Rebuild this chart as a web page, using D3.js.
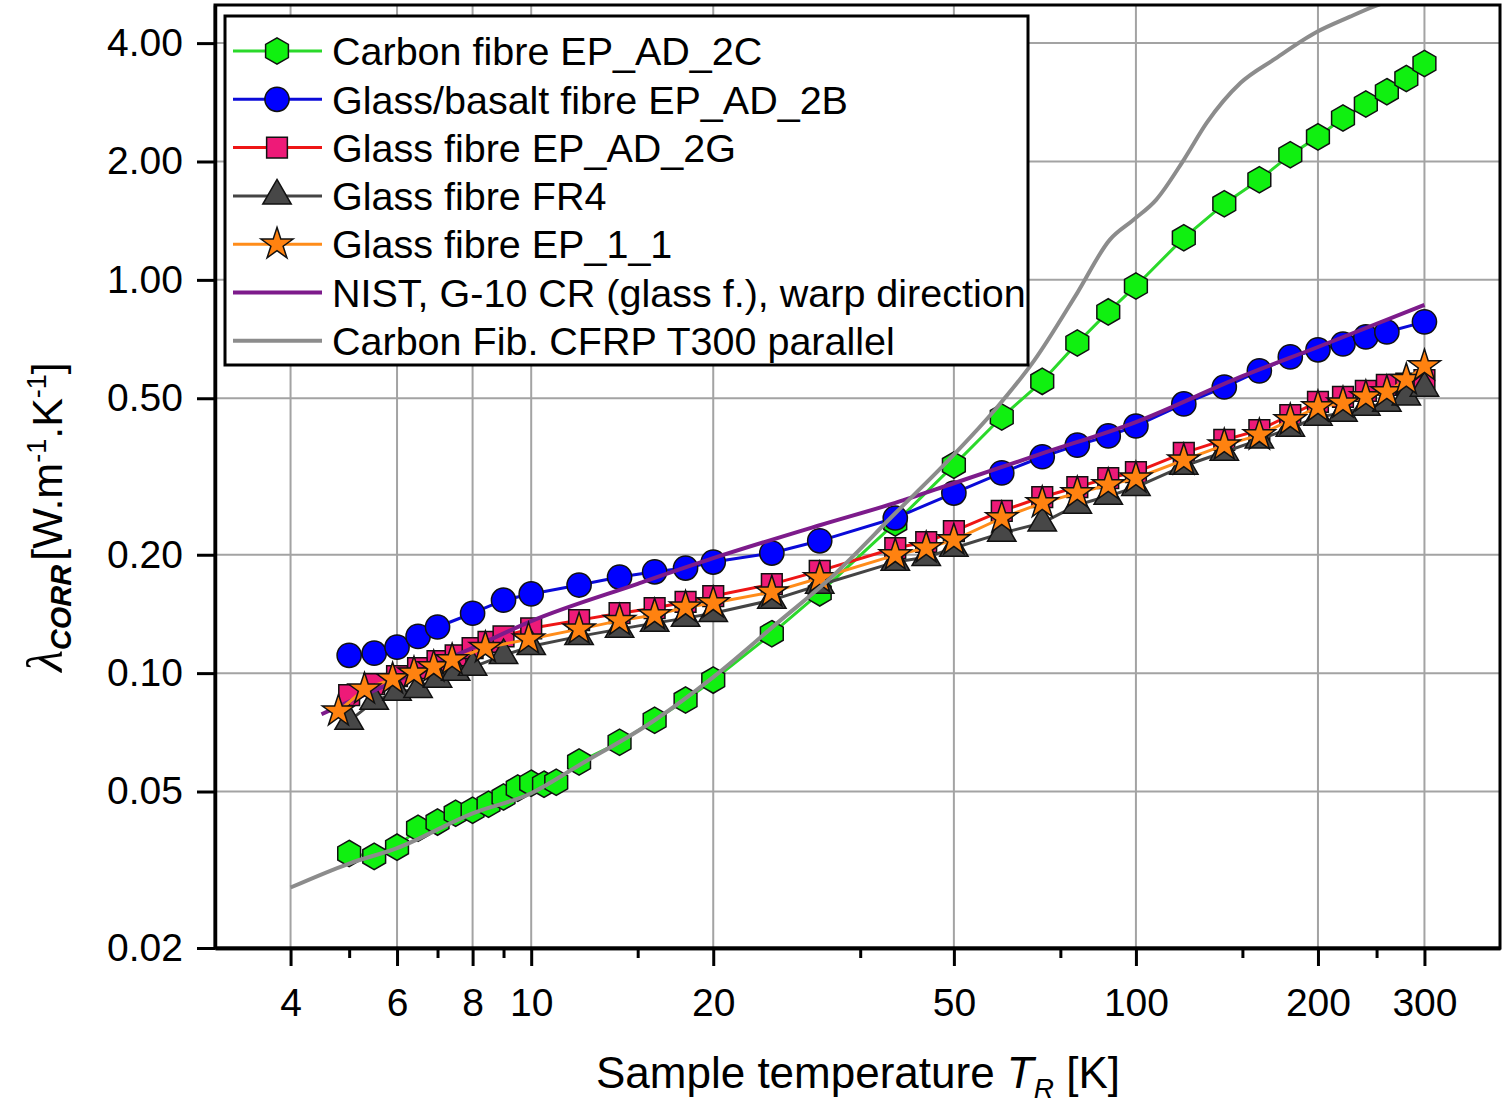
<!DOCTYPE html>
<html>
<head>
<meta charset="utf-8">
<script src="https://cdn.jsdelivr.net/npm/d3@7/dist/d3.min.js"></script>
<style>
  html, body { margin: 0; padding: 0; background: #fff; }
  svg { display: block; font-family: "Liberation Sans", Arial, sans-serif; }
</style>
</head>
<body>
<svg id="chart" width="1508" height="1105"></svg>
<script>
// Thermal conductivity vs. sample temperature (log-log)

const carbonT = [5, 5.5, 6, 6.5, 7, 7.5, 8, 8.5, 9, 9.5, 10, 10.5, 11, 12, 14, 16, 18, 20, 25, 30, 40, 50, 60, 70, 80, 90, 100, 120, 140, 160, 180, 200, 220, 240, 260, 280, 300];
const carbonK = [0.0348, 0.0342, 0.0361, 0.0403, 0.0418, 0.0440, 0.0448, 0.0464, 0.0484, 0.0510, 0.0525, 0.0522, 0.0528, 0.0594, 0.0667, 0.0759, 0.0854, 0.0960, 0.126, 0.160, 0.241, 0.338, 0.448, 0.552, 0.691, 0.829, 0.965, 1.279, 1.561, 1.797, 2.08, 2.31, 2.58, 2.80, 3.01, 3.25, 3.55];

const basaltT = [5, 5.5, 6, 6.5, 7, 8, 9, 10, 12, 14, 16, 18, 20, 25, 30, 40, 50, 60, 70, 80, 90, 100, 120, 140, 160, 180, 200, 220, 240, 260, 300];
const basaltK = [0.111, 0.1124, 0.1164, 0.124, 0.131, 0.142, 0.1533, 0.159, 0.1675, 0.1755, 0.181, 0.185, 0.1916, 0.202, 0.217, 0.248, 0.287, 0.323, 0.355, 0.380, 0.401, 0.425, 0.4836, 0.534, 0.587, 0.637, 0.664, 0.687, 0.716, 0.737, 0.782];

const glass2gT = [5, 5.5, 6, 6.5, 7, 7.5, 8, 8.5, 9, 10, 12, 14, 16, 18, 20, 25, 30, 40, 45, 50, 60, 70, 80, 90, 100, 120, 140, 160, 180, 200, 220, 240, 260, 280, 300];
const glass2gK = [0.0879, 0.0938, 0.0983, 0.103, 0.1073, 0.111, 0.1158, 0.120, 0.124, 0.130, 0.1364, 0.142, 0.1464, 0.1517, 0.157, 0.1684, 0.182, 0.208, 0.2155, 0.2298, 0.2584, 0.2804, 0.2973, 0.3133, 0.3246, 0.363, 0.3917, 0.415, 0.4533, 0.4895, 0.504, 0.522, 0.541, 0.545, 0.556];

const fr4T = [5, 5.5, 6, 6.5, 7, 7.5, 8, 9, 10, 12, 14, 16, 18, 20, 25, 30, 40, 45, 50, 60, 70, 80, 90, 100, 120, 140, 160, 180, 200, 220, 240, 260, 280, 300];
const fr4K = [0.0755, 0.0849, 0.0895, 0.091, 0.0966, 0.1006, 0.1036, 0.111, 0.117, 0.124, 0.1294, 0.134, 0.138, 0.142, 0.1533, 0.1675, 0.1916, 0.197, 0.208, 0.227, 0.241, 0.2677, 0.282, 0.297, 0.3363, 0.365, 0.392, 0.420, 0.448, 0.4587, 0.475, 0.486, 0.504, 0.531];

const ep11T = [4.8, 5.3, 5.9, 6.4, 6.9, 7.4, 8.4, 9.9, 12, 14, 16, 18, 20, 25, 30, 40, 45, 50, 60, 70, 80, 90, 100, 120, 140, 160, 180, 200, 220, 240, 260, 280, 300];
const ep11K = [0.080, 0.091, 0.0966, 0.100, 0.1036, 0.108, 0.116, 0.122, 0.1294, 0.136, 0.1405, 0.147, 0.1507, 0.1607, 0.1745, 0.1996, 0.208, 0.218, 0.248, 0.271, 0.287, 0.301, 0.313, 0.348, 0.380, 0.403, 0.440, 0.475, 0.486, 0.504, 0.519, 0.557, 0.604];

const nistT = [4.5, 5, 6, 8, 10, 15, 20, 30, 40, 50, 70, 100, 150, 200, 300];
const nistK = [0.0786, 0.0846, 0.0958, 0.116, 0.1356, 0.1687, 0.196, 0.2377, 0.271, 0.304, 0.362, 0.435, 0.569, 0.675, 0.864];

const t300T = [4, 5, 6, 8, 10, 12, 16, 20, 25.8, 31, 40, 49, 59, 68, 80, 90.5, 99, 108, 120, 131, 149, 169, 199, 226, 247, 270, 300];
const t300K = [0.0285, 0.0328, 0.0359, 0.0440, 0.0495, 0.0583, 0.0759, 0.0977, 0.136, 0.1725, 0.255, 0.348, 0.475, 0.626, 0.927, 1.264, 1.42, 1.598, 2.02, 2.51, 3.17, 3.63, 4.27, 4.67, 4.95, 5.2, 5.4];

const xMajor = [4, 6, 8, 10, 20, 50, 100, 200, 300];
const xMinor = [5, 7, 9, 15, 35, 75, 150, 250];
const yMajor = [0.02, 0.05, 0.1, 0.2, 0.5, 1, 2, 4];

const legendLabels = [
  'Carbon fibre EP_AD_2C',
  'Glass/basalt fibre EP_AD_2B',
  'Glass fibre EP_AD_2G',
  'Glass fibre FR4',
  'Glass fibre EP_1_1',
  'NIST, G-10 CR (glass f.), warp direction',
  'Carbon Fib. CFRP T300 parallel',
];

const symbolHexagon = {
  draw(ctx, size) {
    const r = Math.sqrt(size / (1.5 * Math.sqrt(3)));
    for (let i = 0; i < 6; i++) {
      const a = Math.PI / 3 * i - Math.PI / 2;
      const px = r * Math.cos(a), py = r * Math.sin(a);
      if (i === 0) ctx.moveTo(px, py); else ctx.lineTo(px, py);
    }
    ctx.closePath();
  }
};

const zip = (ts, ks) => ts.map((t, i) => ({ t, k: ks[i] }));

// legend order; draw order is set separately below
const series = [
  { name: legendLabels[0], data: zip(carbonT, carbonK), line: '#2ad92a', fill: '#10f010', symbol: symbolHexagon, size: 450, lw: 3 },
  { name: legendLabels[1], data: zip(basaltT, basaltK), line: '#0a0ad8', fill: '#0000ff', symbol: d3.symbolCircle, size: 460, lw: 3 },
  { name: legendLabels[2], data: zip(glass2gT, glass2gK), line: '#ee1515', fill: '#ee1a78', symbol: d3.symbolSquare, size: 430, lw: 3 },
  { name: legendLabels[3], data: zip(fr4T, fr4K), line: '#444444', fill: '#474747', symbol: d3.symbolTriangle, size: 350, lw: 3 },
  { name: legendLabels[4], data: zip(ep11T, ep11K), line: '#ff8c1a', fill: '#ff8210', symbol: d3.symbolStar, size: 320, lw: 3 },
  { name: legendLabels[5], data: zip(nistT, nistK), line: '#7d1b8b', symbol: null, lw: 4, smooth: true },
  { name: legendLabels[6], data: zip(t300T, t300K), line: '#8c8c8c', symbol: null, lw: 4, smooth: true },
];
const drawOrder = [0, 1, 2, 3, 5, 4, 6];

const plot = { left: 215, right: 1500, top: 5, bottom: 948 };

const svg = d3.select('#chart');

const x = d3.scaleLog().domain([3, 400]).range([plot.left, plot.right]);
const y = d3.scaleLog().domain([0.02, 5]).range([plot.bottom, plot.top]);

svg.append('defs').append('clipPath').attr('id', 'plot-clip')
  .append('rect')
  .attr('x', plot.left).attr('y', plot.top)
  .attr('width', plot.right - plot.left).attr('height', plot.bottom - plot.top);

// grid
const grid = svg.append('g').attr('stroke', '#a3a3a3').attr('stroke-width', 2);
xMajor.forEach(v => {
  grid.append('line')
    .attr('x1', x(v)).attr('x2', x(v))
    .attr('y1', plot.top).attr('y2', plot.bottom);
});
yMajor.filter(v => v > 0.02).forEach(v => {
  grid.append('line')
    .attr('x1', plot.left).attr('x2', plot.right)
    .attr('y1', y(v)).attr('y2', y(v));
});

// data
const lineGen = d3.line().x(d => x(d.t)).y(d => y(d.k));
const smoothGen = d3.line().x(d => x(d.t)).y(d => y(d.k)).curve(d3.curveMonotoneX);

const dataLayer = svg.append('g').attr('clip-path', 'url(#plot-clip)');
drawOrder.forEach(i => {
  const s = series[i];
  const g = dataLayer.append('g');
  g.append('path')
    .attr('d', (s.smooth ? smoothGen : lineGen)(s.data))
    .attr('fill', 'none')
    .attr('stroke', s.line)
    .attr('stroke-width', s.lw)
    .attr('stroke-linejoin', 'round');
  if (s.symbol) {
    g.selectAll('path.marker').data(s.data).join('path')
      .attr('class', 'marker')
      .attr('transform', d => `translate(${x(d.t)},${y(d.k)})`)
      .attr('d', d3.symbol().type(s.symbol).size(s.size))
      .attr('fill', s.fill)
      .attr('stroke', '#111')
      .attr('stroke-width', 1.5)
      .attr('stroke-linejoin', 'miter');
  }
});

// frame
svg.append('rect')
  .attr('x', plot.left).attr('y', plot.top)
  .attr('width', plot.right - plot.left).attr('height', plot.bottom - plot.top)
  .attr('fill', 'none').attr('stroke', '#000').attr('stroke-width', 3);

// axes
const xAxis = svg.append('g')
  .attr('transform', `translate(0,${plot.bottom})`)
  .call(d3.axisBottom(x).tickValues(xMajor).tickFormat(d3.format('d')).tickSize(18).tickSizeOuter(0).tickPadding(22));
const xAxisMinor = svg.append('g')
  .attr('transform', `translate(0,${plot.bottom})`)
  .call(d3.axisBottom(x).tickValues(xMinor).tickFormat('').tickSize(10).tickSizeOuter(0));
const yAxis = svg.append('g')
  .attr('transform', `translate(${plot.left},0)`)
  .call(d3.axisLeft(y).tickValues(yMajor).tickFormat(d3.format('.2f')).tickSize(18).tickSizeOuter(0).tickPadding(14));

[xAxis, xAxisMinor, yAxis].forEach(a => {
  a.select('.domain').attr('stroke-width', 3.5).attr('stroke', '#000');
  a.selectAll('.tick line').attr('stroke', '#000').attr('stroke-width', 3);
  a.selectAll('.tick text')
    .attr('fill', '#000')
    .style('font-size', '39px')
    .style('font-family', '"Liberation Sans", Arial, sans-serif');
});

// axis titles
const xTitle = svg.append('text')
  .attr('x', 858).attr('y', 1088)
  .attr('text-anchor', 'middle')
  .style('font-size', '44px');
xTitle.append('tspan').text('Sample temperature ');
xTitle.append('tspan').style('font-style', 'italic').text('T');
xTitle.append('tspan').style('font-style', 'italic').style('font-size', '28px').attr('dy', 10).text('R');
xTitle.append('tspan').attr('dy', -10).text(' [K]');

const yTitle = svg.append('text')
  .attr('transform', 'translate(62,517) rotate(-90)')
  .attr('text-anchor', 'middle')
  .style('font-size', '43px');
yTitle.append('tspan').style('font-family', '"Liberation Serif", serif').style('font-style', 'italic').style('font-size', '50px').text('\u03bb');
yTitle.append('tspan').style('font-style', 'italic').style('font-weight', 'bold').style('font-size', '29px').attr('dy', 9).text('CORR');
yTitle.append('tspan').attr('dy', -9).attr('dx', 4).text('[W.m');
yTitle.append('tspan').style('font-size', '27px').attr('dy', -16).text('-1');
yTitle.append('tspan').attr('dy', 16).text('.K');
yTitle.append('tspan').style('font-size', '27px').attr('dy', -16).text('-1');
yTitle.append('tspan').attr('dy', 16).text(']');

// legend
const legend = svg.append('g');
legend.append('rect')
  .attr('x', 225).attr('y', 16).attr('width', 803).attr('height', 349)
  .attr('fill', '#fff').attr('stroke', '#000').attr('stroke-width', 3);

series.forEach((s, i) => {
  const cy = 51 + i * 48.3;
  legend.append('line')
    .attr('x1', 233).attr('x2', 322)
    .attr('y1', cy).attr('y2', cy)
    .attr('stroke', s.line).attr('stroke-width', s.lw);
  if (s.symbol) {
    legend.append('path')
      .attr('transform', `translate(277,${cy})`)
      .attr('d', d3.symbol().type(s.symbol).size(s.size))
      .attr('fill', s.fill).attr('stroke', '#111').attr('stroke-width', 1.5);
  }
  legend.append('text')
    .attr('x', 332).attr('y', cy)
    .attr('dy', '0.36em')
    .style('font-size', '39.5px')
    .text(s.name);
});
</script>
</body>
</html>
